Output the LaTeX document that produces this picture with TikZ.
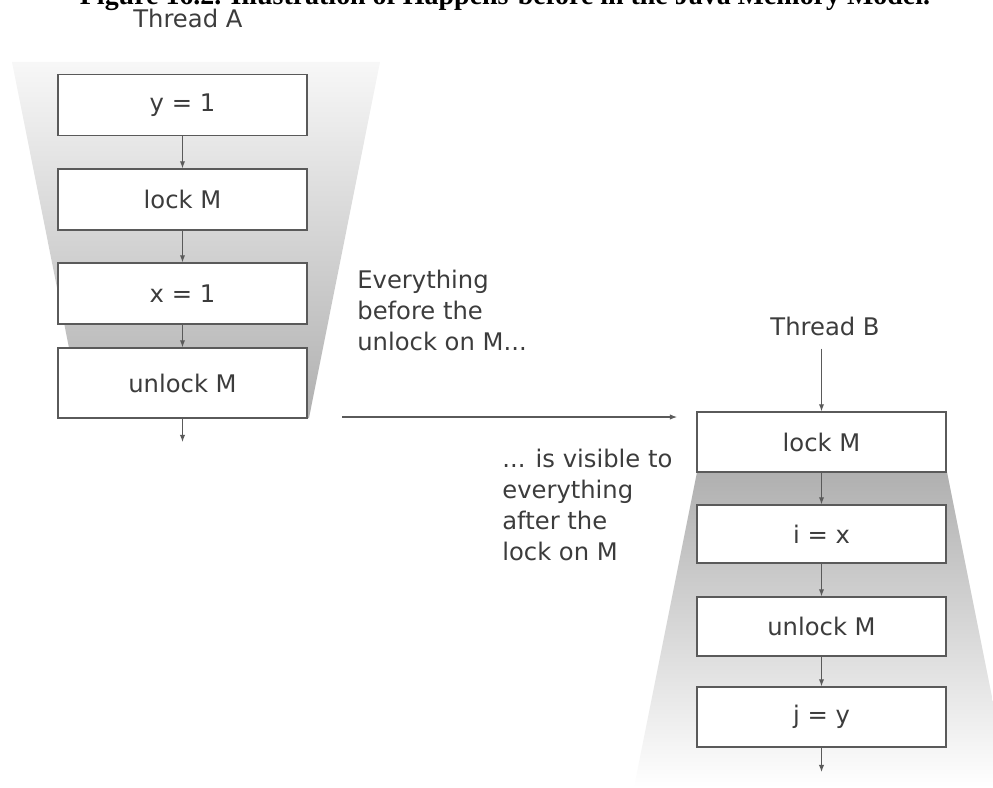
\documentclass[tikz,border=0pt]{standalone}
\usepackage{fontspec}
\setmainfont{DejaVu Sans}
\newfontfamily\capfont{Liberation Serif}
\usetikzlibrary{arrows.meta}

\definecolor{txtgray}{HTML}{3C3C3C}
\definecolor{linegray}{HTML}{5A5A5A}

\tikzset{
  stepbox/.style={draw=linegray, fill=white, line width=0.8pt,
    minimum width=4.98cm, minimum height=1.22cm, text=txtgray,
    font=\fontsize{13.8}{16}\selectfont},
  flow/.style={-{Latex[length=4pt,width=3pt]}, draw=linegray, line width=0.6pt},
  note/.style={align=left, anchor=north west, inner sep=0pt, text=txtgray,
    font=\fontsize{13.8}{17.6}\selectfont}
}

\begin{document}
\begin{tikzpicture}[x=0.02cm, y=-0.02cm]
    \useasboundingbox (0,0) rectangle (993,787);

    % funnels
    \shade[top color=gray!6, bottom color=gray!62] (12,62) -- (380,62) -- (309,418) -- (83,418) -- cycle;
    \shade[top color=gray!62, bottom color=white] (697,472) -- (947,472) -- (1010,787) -- (634,787) -- cycle;

\node[anchor=base, font=\capfont\bfseries\fontsize{15.9}{17}\selectfont] (title) at (505,5)
    {Figure 16.2. Illustration of Happens-before in the Java Memory Model.};

% thread A
\node[anchor=base west, inner sep=0pt, text=txtgray, font=\fontsize{13.8}{16}\selectfont] (tha) at (133,28) {Thread A};
\node[stepbox] (ya) at (182.5,105) {y = 1};
\node[stepbox] (locka) at (182.5,199.5) {lock M};
\node[stepbox] (xa) at (182.5,293.5) {x = 1};
\node[stepbox, minimum height=1.4cm] (unlocka) at (182.5,383) {unlock M};
\coordinate (enda) at (182.5,442);

\draw[flow] (ya) -- (locka);
\draw[flow] (locka) -- (xa);
\draw[flow] (xa) -- (unlocka);
\draw[flow] (unlocka) -- (enda);

% thread B
\node[anchor=base, text=txtgray, font=\fontsize{13.8}{16}\selectfont] (thb) at (825,335) {Thread B};
\node[stepbox, minimum height=1.2cm] (lockb) at (821.5,442) {lock M};
\node[stepbox, minimum height=1.16cm] (ib) at (821.5,534) {i = x};
\node[stepbox, minimum height=1.18cm] (unlockb) at (821.5,626.5) {unlock M};
\node[stepbox, minimum height=1.2cm] (jb) at (821.5,717) {j = y};
\coordinate (endb) at (821.5,772);

\draw[flow, shorten <=4pt] (thb.south -| lockb.north) -- (lockb);
\draw[flow] (lockb) -- (ib);
\draw[flow] (ib) -- (unlockb);
\draw[flow] (unlockb) -- (jb);
\draw[flow] (jb) -- (endb);

% happens-before
\coordinate (hbs) at (342,417);
\coordinate (hbe) at (677,417);
\draw[flow] (hbs) -- (hbe);

\node[note] (before) at (357,269.5) {Everything\\before the\\unlock on M...};
\node[note] (after) at (502,448.5) {... is visible to\\everything\\after the\\lock on M};

\end{tikzpicture}
\end{document}
